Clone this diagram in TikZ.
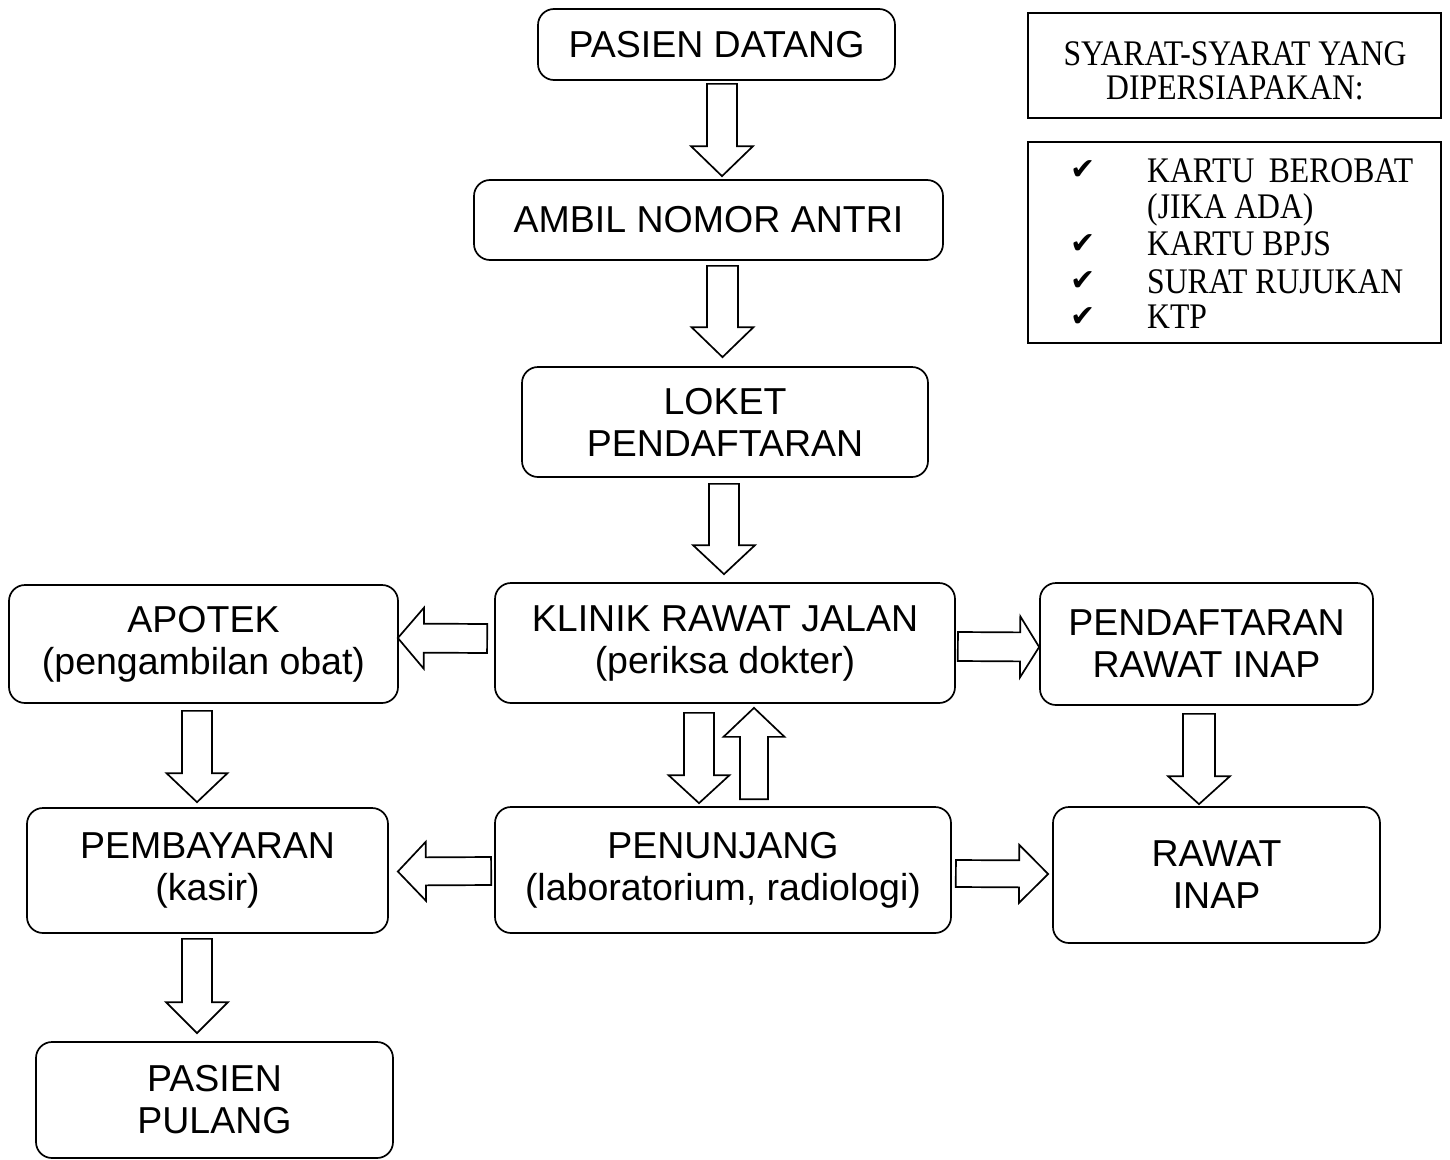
\documentclass[tikz,border=0pt]{standalone}
\usepackage{fontspec}
\setmainfont{Liberation Serif}
\newfontfamily\serifn[FakeStretch=0.88]{Liberation Serif}
\newfontfamily\arialf{Liberation Sans}
\newfontfamily\dejavuf{DejaVu Sans}
\usetikzlibrary{calc}
% #1 start, #2 tip, #3 shaft half width, #4 head half width, #5 head length
\newcommand\blockarrow[5]{%
  \draw[blockarr] let \p1=#1, \p2=#2,
      \n1={atan2(\y2-(\y1),\x2-(\x1))},
      \n2={veclen(\x2-(\x1),\y2-(\y1))} in
    [shift={(\p1)}, rotate=\n1]
    (0pt,#3pt) -- ({\n2-#5pt},#3pt) -- ({\n2-#5pt},#4pt) -- (\n2,0pt)
    -- ({\n2-#5pt},-#4pt) -- ({\n2-#5pt},-#3pt) -- (0pt,-#3pt) -- cycle;}
\tikzset{
  box/.style={draw, line width=1.7pt, rounded corners=16pt, inner sep=0pt,
    align=center, font=\arialf\fontsize{37.5}{42}\selectfont},
  sqbox/.style={draw, line width=1.7pt, inner sep=0pt},
  blockarr/.style={draw, line width=1.7pt, line join=miter, fill=white},
  listtxt/.style={anchor=base west, inner sep=0pt, font=\serifn\fontsize{36}{36}\selectfont},
  chk/.style={anchor=base west, inner sep=0pt, font=\dejavuf\fontsize{30}{32}\selectfont},
}
\begin{document}
\begin{tikzpicture}[x=1pt,y=-1pt]
\useasboundingbox[fill=white] (0,0) rectangle (1450,1159);

% main boxes
\node[box, minimum width=357pt, minimum height=71pt] (datang) at (716.5,44.5) {PASIEN DATANG};
\node[box, minimum width=469pt, minimum height=80pt] (ambil) at (708.5,220) {AMBIL NOMOR ANTRI};
\node[box, minimum width=406pt, minimum height=110pt] (loket) at (725,422) {LOKET\\PENDAFTARAN};
\node[box, minimum width=460pt, minimum height=120pt] (klinik) at (725,643) {KLINIK RAWAT JALAN\\(periksa dokter)};
\node[box, minimum width=389pt, minimum height=118pt] (apotek) at (203.5,644) {APOTEK\\(pengambilan obat)};
\node[box, minimum width=333pt, minimum height=122pt] (pendaf) at (1206.5,644) {PENDAFTARAN\\RAWAT INAP};
\node[box, minimum width=361pt, minimum height=125pt] (bayar) at (207.5,870.5) {PEMBAYARAN\\(kasir)};
\node[box, minimum width=456pt, minimum height=126pt] (penunjang) at (723,870) {PENUNJANG\\(laboratorium, radiologi)};
\node[box, minimum width=327pt, minimum height=136pt] (rawat) at (1216.5,875) {RAWAT\\INAP};
\node[box, minimum width=357pt, minimum height=116pt] (pulang) at (214.5,1100) {PASIEN\\PULANG};

% requirement boxes
\node[sqbox, minimum width=413pt, minimum height=105pt] (syarat) at (1234.5,65.5) {};
\node[align=center, inner sep=0pt, font=\serifn\fontsize{36}{34}\selectfont] (syarattxt) at (1235,71)
  {SYARAT-SYARAT YANG\\DIPERSIAPAKAN:};
\node[sqbox, minimum width=413pt, minimum height=201pt] (list) at (1234.5,242.5) {};
\node[chk] (c1) at (1070,179) {✔};
\node[chk] (c2) at (1070,253) {✔};
\node[chk] (c3) at (1070,290) {✔};
\node[chk] (c4) at (1070,326) {✔};
\node[listtxt] (t1) at (1147,182) {KARTU\hspace{0.4em}BEROBAT};
\node[listtxt] (t1b) at (1147,218) {(JIKA ADA)};
\node[listtxt] (t2) at (1147,255) {KARTU BPJS};
\node[listtxt] (t3) at (1147,293) {SURAT RUJUKAN};
\node[listtxt] (t4) at (1147,328) {KTP};

% block arrows
\blockarrow{($(datang.south)+(5.5,3)$)}{($(ambil.north)+(13.5,-3)$)}{15}{31}{30}
\blockarrow{($(ambil.south)+(14,5)$)}{($(loket.north)+(-2.5,-9)$)}{15.5}{31}{30}
\blockarrow{($(loket.south)+(-1,6)$)}{($(klinik.north)+(-1,-8)$)}{15}{31}{29}
\blockarrow{($(klinik.west)+(-7,-4.5)$)}{($(apotek.east)+(-1,-6)$)}{14.5}{30.5}{26}
\blockarrow{($(klinik.east)+(2,3.5)$)}{($(pendaf.west)+(0,3)$)}{14.5}{30.5}{19}
\blockarrow{($(klinik.south)+(-26,9)$)}{($(penunjang.north)+(-24,-3)$)}{15}{30.5}{28}
\blockarrow{($(penunjang.north)+(31,-7)$)}{($(klinik.south)+(29,4)$)}{14}{30.5}{29}
\blockarrow{($(apotek.south)+(-6.5,7)$)}{($(bayar.north)+(-10.5,-5)$)}{15}{30.5}{29}
\blockarrow{($(penunjang.west)+(-3,1)$)}{($(bayar.east)+(9,1)$)}{14}{29.5}{28}
\blockarrow{($(penunjang.east)+(4,3.5)$)}{($(rawat.west)+(-4,-1)$)}{13.5}{29}{29}
\blockarrow{($(pendaf.south)+(-7.5,8)$)}{($(rawat.north)+(-17.5,-2)$)}{16}{31}{28}
\blockarrow{($(bayar.south)+(-10.5,5)$)}{($(pulang.north)+(-17.5,-8)$)}{15}{31}{31}
\end{tikzpicture}
\end{document}
